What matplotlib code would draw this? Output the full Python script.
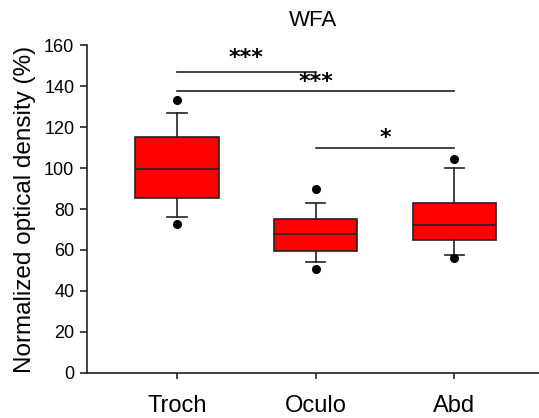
import matplotlib
matplotlib.use("Agg")
import matplotlib.pyplot as plt

plt.rcParams['font.family'] = ['Liberation Sans', 'DejaVu Sans']

groups = ['Troch', 'Oculo', 'Abd']
q1 = [85.5, 59.5, 65]
median = [99.5, 68, 72]
q3 = [115, 75, 83]
whislo = [76, 54, 57.5]
whishi = [127, 83, 100]
fliers = [[133, 72.5], [90, 50.5], [104.5, 56]]

# significance bars: (from group, to group, bar height, star height, label)
sig_bars = [(0, 1, 147, 153.5, '***'), (0, 2, 137.5, 142, '***'), (1, 2, 110, 114.5, '*')]

stats = []
for i, g in enumerate(groups):
    stats.append(dict(label=g, q1=q1[i], med=median[i], q3=q3[i],
                      whislo=whislo[i], whishi=whishi[i], fliers=fliers[i]))

fig = plt.figure(figsize=(5.39, 4.18), dpi=100)
ax = fig.add_axes([0.161, 0.1077, 0.839, 0.7846])

pos = [1, 2, 3]
ax.bxp(stats, positions=pos, widths=0.6, patch_artist=True,
       boxprops=dict(facecolor='#ff0000', edgecolor='#222222', linewidth=1.2),
       medianprops=dict(color='#222222', linewidth=1.2),
       whiskerprops=dict(color='#222222', linewidth=1.2),
       capprops=dict(color='#222222', linewidth=1.2),
       capwidths=0.14,
       flierprops=dict(marker='o', markerfacecolor='black', markeredgecolor='black',
                       markersize=5.5))

for a, b, h, hs, lab in sig_bars:
    ax.plot([pos[a], pos[b]], [h, h], color='#222222', lw=1.2)
    ax.text((pos[a] + pos[b]) / 2, hs, lab, ha='center', va='center',
            fontsize=16, family='DejaVu Sans', fontweight='bold')

ax.set_xlim(0.35, 3.61)
ax.set_ylim(0, 160)
ax.set_yticks(range(0, 161, 20))
ax.set_xticks(pos)
ax.set_xticklabels(groups, fontsize=17)
ax.tick_params(axis='y', labelsize=13, length=5, width=1.2, color='#222222', pad=4)
ax.tick_params(axis='x', length=4, width=1.2, color='#222222', pad=12)
ax.set_ylabel('Normalized optical density (%)', fontsize=17.5, labelpad=6)
ax.set_title('WFA', fontsize=16, pad=14)

for s in ['top', 'right']:
    ax.spines[s].set_visible(False)
for s in ['left', 'bottom']:
    ax.spines[s].set_color('#222222')
    ax.spines[s].set_linewidth(1.2)

plt.savefig('out.png', dpi=100)
